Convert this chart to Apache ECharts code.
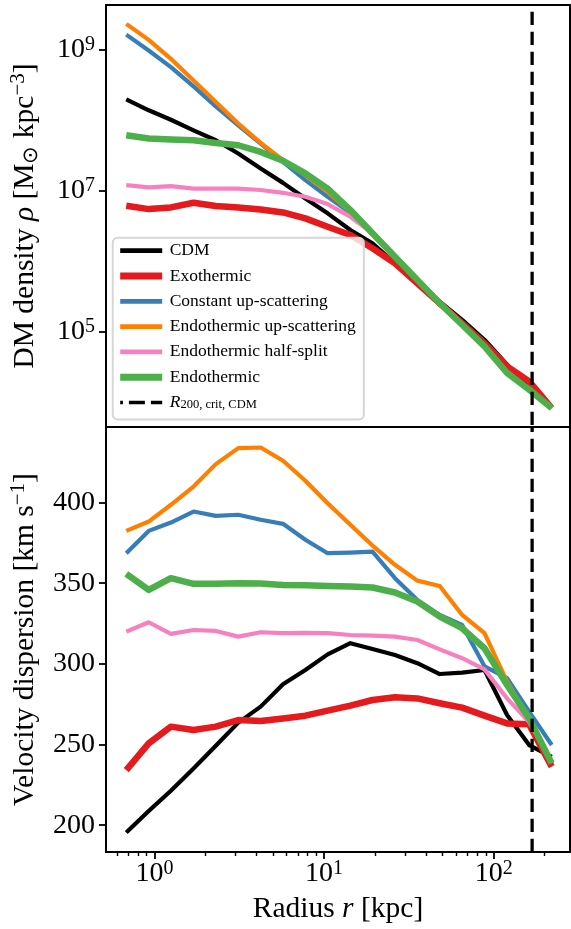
<!DOCTYPE html>
<html>
<head>
<meta charset="utf-8">
<script src="https://cdn.jsdelivr.net/npm/echarts@6/dist/echarts.min.js"></script>
<style>
html,body{margin:0;padding:0;background:#fff;}
#chart{width:571px;height:929px;}
</style>
</head>
<body>
<div id="chart"></div>
<script>
// ---- data ----
const radius = [0.682, 0.925, 1.25, 1.70, 2.30, 3.12, 4.23, 5.73, 7.76, 10.5, 14.3, 19.3, 26.2, 35.5, 48.1, 65.2, 88.3, 120, 162, 220];

const cdmRho    = [1.99e8, 1.39e8, 1.02e8, 7.23e7, 5.22e7, 3.39e7, 2.08e7, 1.30e7, 7.83e6, 4.81e6, 2.79e6, 1.81e6, 9.44e5, 4.92e5, 2.71e5, 1.49e5, 7.78e4, 3.45e4, 1.61e4, 8.7e3];
const exoRho    = [6.17e6, 5.53e6, 5.84e6, 6.79e6, 6.10e6, 5.84e6, 5.47e6, 4.96e6, 4.08e6, 3.11e6, 2.37e6, 1.54e6, 9.44e5, 4.92e5, 2.56e5, 1.34e5, 6.98e4, 3.27e4, 2.0e4, 8.4e3];
const constRho  = [1.64e9, 9.77e8, 5.69e8, 3.03e8, 1.58e8, 8.51e7, 4.69e7, 2.58e7, 1.42e7, 8.26e6, 4.9e6, 2.5e6, 1.17e6, 5.5e5, 2.6e5, 1.3e5, 6.3e4, 2.7e4, 1.55e4, 8.4e3];
const endoUpRho = [2.33e9, 1.38e9, 7.45e8, 3.68e8, 1.82e8, 9.0e7, 4.79e7, 2.72e7, 1.67e7, 9.7e6, 5.0e6, 2.45e6, 1.15e6, 5.5e5, 2.65e5, 1.3e5, 6.2e4, 2.7e4, 1.5e4, 8.3e3];
const halfRho   = [1.21e7, 1.12e7, 1.17e7, 1.08e7, 1.08e7, 1.08e7, 1.03e7, 9.41e6, 8.27e6, 6.51e6, 4.31e6, 2.51e6, 1.2e6, 5.6e5, 2.65e5, 1.3e5, 6.3e4, 2.75e4, 1.55e4, 8.4e3];
const endoRho   = [6.15e7, 5.52e7, 5.34e7, 5.22e7, 4.79e7, 4.44e7, 3.57e7, 2.67e7, 1.77e7, 1.08e7, 5.36e6, 2.51e6, 1.17e6, 5.49e5, 2.56e5, 1.27e5, 6.27e4, 2.63e4, 1.53e4, 8.4e3];

const cdmSig    = [195.5, 208.8, 221.4, 235.2, 249.3, 263.6, 273.5, 287.3, 296.2, 305.9, 312.8, 309.2, 305.5, 300.4, 293.7, 294.6, 296.2, 268.3, 249.7, 242.4];
const exoSig    = [234.2, 250.7, 261.1, 259.0, 261.1, 265.2, 264.6, 266.2, 267.9, 271.0, 274.1, 277.6, 279.3, 278.6, 275.6, 272.9, 267.9, 263.1, 262.5, 236.3];
const constSig  = [368.6, 382.4, 387.6, 394.4, 391.7, 392.4, 389.3, 386.8, 376.9, 368.6, 369.0, 369.6, 353.1, 339.6, 330.3, 324.1, 298.5, 291.1, 270.4, 249.7];
const endoUpSig = [382.4, 388.2, 398.6, 409.9, 423.8, 433.7, 434.1, 425.9, 413.5, 399.6, 386.2, 373.3, 361.4, 351.6, 348.3, 330.3, 319.0, 289.0, 266.3, 239.5];
const halfSig   = [320.0, 325.8, 318.6, 321.0, 320.4, 316.9, 319.6, 319.0, 319.2, 319.0, 317.9, 317.5, 316.9, 314.8, 309.0, 303.5, 296.6, 278.6, 264.0, 239.0];
const endoSig   = [355.8, 345.8, 353.1, 349.6, 349.6, 350.0, 349.8, 348.9, 348.7, 348.3, 347.9, 347.3, 344.2, 338.6, 329.3, 322.1, 309.7, 286.9, 266.2, 238.3];

const r200 = 168.6;

const seriesNames = ['CDM', 'Exothermic', 'Constant up-scattering', 'Endothermic up-scattering', 'Endothermic half-split', 'Endothermic'];
const r200Name = 'R200';
const seriesColors = ['#000000', '#e41a1c', '#377eb8', '#ff7f00', '#f781bf', '#4daf4a'];
const seriesWidths = [4.2, 6.5, 4.2, 4.2, 4.2, 6.5];
const rhoSets = [cdmRho, exoRho, constRho, endoUpRho, halfRho, endoRho];
const sigSets = [cdmSig, exoSig, constSig, endoUpSig, halfSig, endoSig];

const xMajorTicks = [1, 10, 100];
const xMinorTicks = [0.6, 0.7, 0.8, 0.9, 2, 3, 4, 5, 6, 7, 8, 9, 20, 30, 40, 50, 60, 70, 80, 90, 200];
const rhoTicks = [1e5, 1e7, 1e9];
const sigTicks = [200, 250, 300, 350, 400];

// axis extents
const xMin = 0.518, xMax = 282;
const rhoMin = 4.52e3, rhoMax = 4.31e9;
const sigMin = 183.4, sigMax = 446.8;

// ---- chart ----
const FONT = 'Liberation Serif';
const BIG = 28, SUP = 20, NAME = 29.5, NAMESUP = 21;

function pow10Label(v) {
  const e = Math.round(Math.log10(v));
  return '{b|10}{e|' + e + '}';
}
const powRich = {
  b: {fontFamily: FONT, fontSize: BIG, lineHeight: 30, verticalAlign: 'middle', color: '#000'},
  e: {fontFamily: FONT, fontSize: SUP, lineHeight: 12, verticalAlign: 'top', color: '#000'}
};

const nameRich = {
  n: {fontFamily: FONT, fontSize: NAME, lineHeight: 34, verticalAlign: 'middle', color: '#000'},
  i: {fontFamily: FONT, fontSize: NAME, fontStyle: 'italic', lineHeight: 34, verticalAlign: 'middle', color: '#000'},
  sup: {fontFamily: FONT, fontSize: NAMESUP, lineHeight: 15, verticalAlign: 'top', color: '#000'},
  sub: {fontFamily: FONT, fontSize: NAMESUP, lineHeight: 15, verticalAlign: 'bottom', color: '#000'}
};

const chart = echarts.init(document.getElementById('chart'), null, {renderer: 'canvas'});

const series = [];
seriesNames.forEach((name, k) => {
  series.push({
    name: name, type: 'line', xAxisIndex: 0, yAxisIndex: 0,
    data: radius.map((r, i) => [r, rhoSets[k][i]]),
    symbol: 'none', color: seriesColors[k],
    lineStyle: {width: seriesWidths[k], color: seriesColors[k], join: 'round'},
    z: 2 + k
  });
  series.push({
    name: name, type: 'line', xAxisIndex: 1, yAxisIndex: 1,
    data: radius.map((r, i) => [r, sigSets[k][i]]),
    symbol: 'none', color: seriesColors[k],
    lineStyle: {width: seriesWidths[k], color: seriesColors[k], join: 'round'},
    z: 2 + k
  });
});
series.push({
  name: r200Name, type: 'line', xAxisIndex: 0, yAxisIndex: 0,
  data: [[r200, rhoMax], [r200, rhoMin]],
  symbol: 'none', color: '#000',
  lineStyle: {width: 3.3, color: '#000', type: [13.3, 6.7], dashOffset: 13.3},
  z: 10
});
series.push({
  name: r200Name, type: 'line', xAxisIndex: 1, yAxisIndex: 1,
  data: [[r200, sigMin], [r200, sigMax]],
  symbol: 'none', color: '#000',
  lineStyle: {width: 3.3, color: '#000', type: [13.3, 6.7]},
  z: 10
});

const legendData = seriesNames.map((n, k) => ({name: n, lineStyle: {width: seriesWidths[k] + 0.5}}));
legendData.push({name: r200Name, lineStyle: {width: 3.5, type: [16, 6]}});

const option = {
  animation: false,
  backgroundColor: '#ffffff',
  textStyle: {fontFamily: FONT},
  grid: [
    {left: 103.5, top: 5, width: 466.5, height: 422, show: true, borderColor: '#000', borderWidth: 2, backgroundColor: 'transparent', containLabel: false},
    {left: 103.5, top: 427, width: 466.5, height: 425, show: true, borderColor: '#000', borderWidth: 2, backgroundColor: 'transparent', containLabel: false}
  ],
  xAxis: [
    {type: 'log', gridIndex: 0, min: xMin, max: xMax, show: false, splitLine: {show: false}},
    {type: 'log', gridIndex: 1, min: xMin, max: xMax, position: 'bottom',
      axisLine: {show: false},
      splitLine: {show: false},
      axisTick: {show: true, length: 7, lineStyle: {width: 1.8, color: '#000'}, customValues: xMajorTicks},
      axisLabel: {customValues: xMajorTicks, formatter: pow10Label, rich: powRich, margin: 7, color: '#000'},
      name: '{n|Radius }{i|r}{n| [kpc]}', nameLocation: 'middle', nameGap: 40,
      nameTextStyle: {rich: nameRich}
    },
    {type: 'log', gridIndex: 1, min: xMin, max: xMax, position: 'bottom',
      axisLine: {show: false}, splitLine: {show: false},
      axisLabel: {show: false},
      axisTick: {show: true, length: 4, lineStyle: {width: 1.4, color: '#000'}, customValues: xMinorTicks}
    }
  ],
  yAxis: [
    {type: 'log', gridIndex: 0, min: rhoMin, max: rhoMax,
      axisLine: {show: false}, splitLine: {show: false},
      axisTick: {show: true, length: 7, lineStyle: {width: 1.8, color: '#000'}, customValues: rhoTicks},
      axisLabel: {customValues: rhoTicks, formatter: pow10Label, rich: powRich, margin: 11, color: '#000'},
      name: '{n|DM density }{i|ρ}{n| [M}{sub|⊙}{n| kpc}{sup|−3}{n|]}', nameLocation: 'middle', nameGap: 64,
      nameTextStyle: {rich: nameRich}
    },
    {type: 'value', gridIndex: 1, min: sigMin, max: sigMax,
      axisLine: {show: false}, splitLine: {show: false},
      axisTick: {show: true, length: 7, lineStyle: {width: 1.8, color: '#000'}, customValues: sigTicks},
      axisLabel: {customValues: sigTicks, fontFamily: FONT, fontSize: BIG, margin: 11, color: '#000'},
      name: '{n|Velocity dispersion [km s}{sup|−1}{n|]}', nameLocation: 'middle', nameGap: 64,
      nameTextStyle: {rich: nameRich}
    }
  ],
  legend: {
    data: legendData,
    orient: 'vertical',
    left: 112.7, top: 237.7,
    padding: [4, 8, 8, 4],
    itemWidth: 42, itemHeight: 18, itemGap: 7.3,
    selectedMode: false,
    itemStyle: {opacity: 0, borderWidth: 0},
    backgroundColor: 'rgba(255,255,255,0.8)',
    borderColor: '#d6d6d6', borderWidth: 2, borderRadius: 5,
    formatter: function (name) {
      if (name === r200Name) return '{ri|R}{rs|200, crit, CDM}';
      return name;
    },
    textStyle: {
      fontFamily: FONT, fontSize: 17.5, lineHeight: 18, color: '#000', padding: [0, 0, 0, 2.5],
      rich: {
        ri: {fontFamily: FONT, fontSize: 17.5, fontStyle: 'italic', lineHeight: 18, verticalAlign: 'middle', color: '#000'},
        rs: {fontFamily: FONT, fontSize: 12.5, lineHeight: 10, verticalAlign: 'bottom', color: '#000'}
      }
    }
  },
  series: series
};
chart.setOption(option);
</script>
</body>
</html>
